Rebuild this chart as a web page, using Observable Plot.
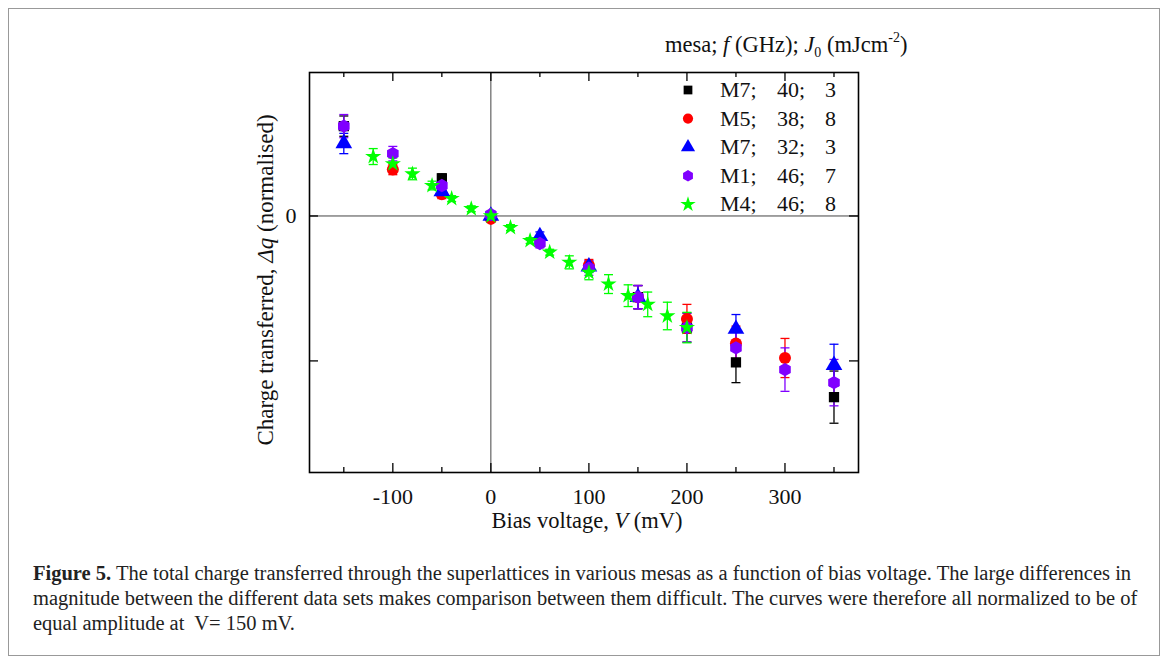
<!DOCTYPE html>
<html><head><meta charset="utf-8">
<script src="https://cdn.jsdelivr.net/npm/d3@7"></script>
<script src="https://cdn.jsdelivr.net/npm/@observablehq/plot@0.6"></script>
<style>
body{margin:0;background:#fff;font-family:"Liberation Serif","Times New Roman",serif;}
#wrap{position:relative;width:1168px;height:664px;overflow:hidden;}
#border{position:absolute;left:8px;top:8px;width:1152px;height:648px;border:1px solid #999;box-sizing:border-box}
#chart{position:absolute;left:0;top:0;}
#caption{position:absolute;left:33px;top:561px;width:1125px;font-size:20.5px;line-height:25px;color:#222;white-space:nowrap}
</style></head><body>
<div id="wrap"><div id="border"></div><div id="chart"></div>
<div id="caption"><b>Figure 5.</b> The total charge transferred through the superlattices in various mesas as a function of bias voltage. The large differences in<br>magnitude between the different data sets makes comparison between them difficult. The curves were therefore all normalized to be of<br>equal amplitude at&nbsp; V= 150&nbsp;mV.</div>
</div>
<script>
// ---- data ----
const mesa = ["M7", "M5", "M7", "M1", "M4"];
const freqGHz = [40, 38, 32, 46, 46];
const fluence = [3, 8, 3, 7, 8];
const colors = ["#000000", "#ff0000", "#0000ff", "#8000ff", "#00ff00"];

// M7; 40; 3 (black squares)
const vBlack = [-150, -50, 0, 150, 200, 250, 350];
const qBlack = [0.62, 0.26, 0.0, -0.56, -0.77, -1.01, -1.25];
const eBlack = [0.07, 0.03, 0.02, 0.08, 0.10, 0.14, 0.18];
// M5; 38; 8 (red circles)
const vRed = [-100, -50, 0, 100, 150, 200, 250, 300];
const qRed = [0.32, 0.15, -0.02, -0.34, -0.56, -0.71, -0.88, -0.98];
const eRed = [0.035, 0.03, 0.02, 0.04, 0.08, 0.10, 0.12, 0.135];
// M7; 32; 3 (blue triangles)
const vBlue = [-150, -50, 0, 50, 100, 150, 250, 350];
const qBlue = [0.50, 0.17, 0.0, -0.14, -0.35, -0.56, -0.78, -1.03];
const eBlue = [0.07, 0.02, 0.02, 0.03, 0.04, 0.08, 0.10, 0.145];
// M1; 46; 7 (purple hexagons)
const vPurple = [-150, -100, -50, 0, 50, 100, 150, 200, 250, 300, 350];
const qPurple = [0.62, 0.43, 0.21, 0.01, -0.19, -0.36, -0.56, -0.77, -0.91, -1.06, -1.15];
const ePurple = [0.08, 0.05, 0.03, 0.02, 0.03, 0.05, 0.08, 0.10, 0.12, 0.15, 0.16];
// M4; 46; 8 (green stars)
const vGreen = [-120, -100, -80, -60, -40, -20, 0, 20, 40, 60, 80, 100, 120, 140, 160, 180, 200];
const qGreen = [0.41, 0.36, 0.29, 0.21, 0.12, 0.05, 0.0, -0.08, -0.17, -0.25, -0.32, -0.39, -0.47, -0.55, -0.61, -0.69, -0.77];
const eGreen = [0.055, 0.04, 0.04, 0.03, 0.02, 0.02, 0.01, 0.02, 0.02, 0.02, 0.045, 0.05, 0.065, 0.075, 0.085, 0.095, 0.105];

const xMajorTicks = [-100, 0, 100, 200, 300];
const xMinorTicks = [-150, -50, 50, 150, 250, 350];
const yTicks = [0, -1];
const yTickLabels = [0];

// ---- symbols ----
const hexagon = {draw(ctx, size){const r = Math.sqrt(size/Math.PI)*1.08; for(let k=0;k<6;k++){const a=Math.PI/2+k*Math.PI/3; const px=r*Math.cos(a), py=r*Math.sin(a); k?ctx.lineTo(px,py):ctx.moveTo(px,py);} ctx.closePath();}};
const cap = {draw(ctx){ctx.moveTo(-4.5,0); ctx.lineTo(4.5,0);}};
const symbols = [d3.symbolSquare, d3.symbolCircle, d3.symbolTriangle, hexagon, d3.symbolStar];
const radii = [5.8, 6, 6.2, 6.2, 5.1];

const vs = [vBlack, vRed, vBlue, vPurple, vGreen];
const qs = [qBlack, qRed, qBlue, qPurple, qGreen];
const es = [eBlack, eRed, eBlue, ePurple, eGreen];
const series = vs.map((v, i) => v.map((x, j) => ({v: x, q: qs[i][j], e: es[i][j]})));

const W = 1168, H = 540, mL = 309, mR = 310, mT = 72, mB = 68;
const pw = W - mL - mR, ph = H - mT - mB;

const marks = [
  Plot.ruleX([0], {stroke: "#444", strokeWidth: 1}),
  Plot.ruleY([0], {stroke: "#444", strokeWidth: 1}),
];
series.forEach((d, i) => {
  const c = colors[i];
  marks.push(Plot.ruleX(d, {x: "v", y1: p => p.q - p.e, y2: p => p.q + p.e, stroke: c, strokeWidth: 1.3}));
  marks.push(Plot.dot(d, {x: "v", y: p => p.q - p.e, symbol: cap, r: 3, stroke: c, strokeWidth: 1.3, fill: "none"}));
  marks.push(Plot.dot(d, {x: "v", y: p => p.q + p.e, symbol: cap, r: 3, stroke: c, strokeWidth: 1.3, fill: "none"}));
});
series.forEach((d, i) => {
  marks.push(Plot.dot(d, {x: "v", y: "q", symbol: symbols[i], r: radii[i], fill: colors[i], stroke: "none"}));
});
marks.push(
  Plot.tickX(xMajorTicks, {x: d => d, insetTop: ph - 9, stroke: "#000", strokeWidth: 1.3}),
  Plot.tickX(xMinorTicks, {x: d => d, insetTop: ph - 5, stroke: "#000", strokeWidth: 1.3}),
  Plot.tickX(xMajorTicks, {x: d => d, insetBottom: ph - 9, stroke: "#000", strokeWidth: 1.3}),
  Plot.tickX(xMinorTicks, {x: d => d, insetBottom: ph - 5, stroke: "#000", strokeWidth: 1.3}),
  Plot.tickY(yTicks, {y: d => d, insetRight: pw - 9, stroke: "#000", strokeWidth: 1.3}),
  Plot.tickY(yTicks, {y: d => d, insetLeft: pw - 9, stroke: "#000", strokeWidth: 1.3}),
  Plot.axisX({ticks: xMajorTicks, tickSize: 0, tickPadding: 16, label: null, fontSize: 22, tickFormat: d => String(d)}),
  Plot.axisY({ticks: yTickLabels, tickSize: 0, tickPadding: 13, label: null, fontSize: 22, tickFormat: d => String(d)}),
  Plot.frame({stroke: "#000", strokeWidth: 1.6})
);

const plot = Plot.plot({
  width: W, height: H,
  marginLeft: mL, marginRight: mR, marginTop: mT, marginBottom: mB,
  x: {domain: [-185, 375]},
  y: {domain: [-1.77, 0.99]},
  style: {fontFamily: "'Liberation Serif', 'Times New Roman', serif", color: "#111", background: "transparent", overflow: "visible"},
  marks
});
document.getElementById("chart").appendChild(plot);

// ---- axis labels, legend (text overlay) ----
const svg = d3.select(plot);
const ff = "'Liberation Serif', 'Times New Roman', serif";
const xl = svg.append("text").attr("x", 587).attr("y", H - 12).attr("text-anchor", "middle")
  .attr("font-size", 22.5).attr("font-family", ff).attr("fill", "#111");
xl.append("tspan").text("Bias voltage, ");
xl.append("tspan").attr("font-style", "italic").text("V");
xl.append("tspan").text(" (mV)");

const yl = svg.append("text").attr("transform", `translate(273,${mT + ph/2 + 8}) rotate(-90)`).attr("text-anchor", "middle")
  .attr("font-size", 23).attr("font-family", ff).attr("fill", "#111");
yl.append("tspan").text("Charge transferred, ");
yl.append("tspan").attr("font-style", "italic").text("\u0394q");
yl.append("tspan").text(" (normalised)");

const lt = svg.append("text").attr("x", 665).attr("y", 52).attr("text-anchor", "start").attr("font-size", 22.5).attr("font-family", ff).attr("fill", "#111");
lt.append("tspan").text("mesa; ");
lt.append("tspan").attr("font-style", "italic").text("f");
lt.append("tspan").text(" (GHz); ");
lt.append("tspan").attr("font-style", "italic").text("J");
lt.append("tspan").attr("font-size", 14).attr("dy", 5).text("0");
lt.append("tspan").attr("dy", -5).text(" (mJcm");
lt.append("tspan").attr("font-size", 14).attr("dy", -10).text("-2");
lt.append("tspan").attr("dy", 10).text(")");

const lg = svg.append("g").attr("font-size", 22).attr("font-family", ff).attr("fill", "#111").attr("text-anchor", "start");
mesa.forEach((m, i) => {
  const y = 90 + i * 28.6;
  const rr = i === 4 ? radii[i] * 0.95 : radii[i] * 0.85;
  lg.append("path").attr("transform", `translate(688,${y})`)
    .attr("d", d3.symbol(symbols[i], Math.PI * rr ** 2)()).attr("fill", colors[i]);
  lg.append("text").attr("x", 720).attr("y", y + 7).text(m + ";");
  lg.append("text").attr("x", 777).attr("y", y + 7).text(freqGHz[i] + ";");
  lg.append("text").attr("x", 825).attr("y", y + 7).text(fluence[i]);
});
</script>
</body></html>
